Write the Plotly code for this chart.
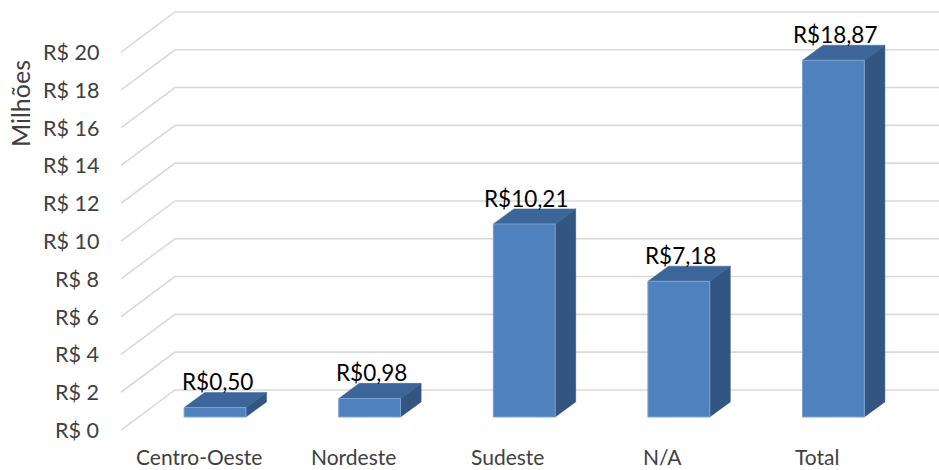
import plotly.graph_objects as go

# ---------------- data ----------------
categories = ["Centro-Oeste", "Nordeste", "Sudeste", "N/A", "Total"]
values = [0.50, 0.98, 10.21, 7.18, 18.87]          # R$ milhões
value_labels = ["R$0,50", "R$0,98", "R$10,21", "R$7,18", "R$18,87"]
tick_values = [0, 2, 4, 6, 8, 10, 12, 14, 16, 18, 20]
tick_labels = ["R$ 0", "R$ 2", "R$ 4", "R$ 6", "R$ 8", "R$ 10",
               "R$ 12", "R$ 14", "R$ 16", "R$ 18", "R$ 20"]
y_title = "Milhões"

# ---------------- style / projection constants ----------------
FONT = "Lato"
HALF_W = 0.20           # half bar width (category units)
DEPTH_X = 0.133         # oblique depth offset of a bar (category units)
DEPTH_Y = 0.80          # oblique depth offset of a bar (value units)
WALL_X = -0.259         # left edge of back wall
WALL_DY = 1.43          # back wall offset above bar front plane
FRONT_X = -0.608        # front-left end of the diagonal gridlines
FRONT_DY = -0.69        # front-left offset below bar front plane
X_RANGE = [-1.391, 4.683]
Y_RANGE = [-2.804, 22.063]

FRONT_COL = "#4F81BD"
SIDE_COL = "#335581"
TOP_COL = "#3C6599"
GRID_COL = "#D9D9D9"

fig = go.Figure()

# gridlines (back wall + left wall diagonals)
gx, gy = [], []
for v in tick_values:
    gx += [FRONT_X, WALL_X, X_RANGE[1], None]
    gy += [v + FRONT_DY, v + WALL_DY, v + WALL_DY, None]
fig.add_trace(go.Scatter(x=gx, y=gy, mode="lines",
                         line=dict(color=GRID_COL, width=1.6),
                         hoverinfo="skip", showlegend=False))

# bars as 3D boxes
fx, fy, sx, sy, tx, ty = [], [], [], [], [], []
for i, v in enumerate(values):
    x0, x1 = i - HALF_W, i + HALF_W
    fx += [x0, x1, x1, x0, x0, None]
    fy += [0, 0, v, v, 0, None]
    sx += [x1, x1 + DEPTH_X, x1 + DEPTH_X, x1, x1, None]
    sy += [0, DEPTH_Y, v + DEPTH_Y, v, 0, None]
    tx += [x0, x1, x1 + DEPTH_X, x0 + DEPTH_X, x0, None]
    ty += [v, v, v + DEPTH_Y, v + DEPTH_Y, v, None]

fig.add_trace(go.Scatter(x=sx, y=sy, fill="toself", fillcolor=SIDE_COL,
                         mode="lines", line=dict(color=SIDE_COL, width=0.5),
                         hoverinfo="skip", showlegend=False))
fig.add_trace(go.Scatter(x=tx, y=ty, fill="toself", fillcolor=TOP_COL,
                         mode="lines", line=dict(color=TOP_COL, width=0.5),
                         hoverinfo="skip", showlegend=False))
fig.add_trace(go.Scatter(x=fx, y=fy, fill="toself", fillcolor=FRONT_COL,
                         mode="lines", line=dict(color="#7FA3D1", width=1),
                         hoverinfo="skip", showlegend=False))

annotations = []
# data labels
for i, (v, lab) in enumerate(zip(values, value_labels)):
    annotations.append(dict(x=i, y=v, text=lab, showarrow=False,
                            xanchor="center", yanchor="middle",
                            xshift=2, yshift=26,
                            font=dict(family=FONT, size=22.5, color="#000000")))
# category labels
for i, c in enumerate(categories):
    annotations.append(dict(x=i - 0.105, y=Y_RANGE[0], text=c, showarrow=False,
                            xanchor="center", yanchor="bottom", yshift=0,
                            borderpad=0,
                            font=dict(family=FONT, size=21, color="#404040")))
# y tick labels
for v, lab in zip(tick_values, tick_labels):
    annotations.append(dict(x=FRONT_X, y=v + FRONT_DY, text=lab, showarrow=False,
                            xanchor="right", yanchor="middle", xshift=-20,
                            font=dict(family=FONT, size=21.5, color="#404040")))
# y title
annotations.append(dict(xref="paper", yref="paper", x=0.022, y=0.78,
                        text=y_title, showarrow=False, textangle=-90,
                        xanchor="center", yanchor="middle",
                        font=dict(family=FONT, size=25, color="#404040")))

fig.update_layout(
    width=939, height=470,
    margin=dict(l=0, r=0, t=0, b=0),
    paper_bgcolor="white", plot_bgcolor="white",
    xaxis=dict(range=X_RANGE, visible=False, fixedrange=True),
    yaxis=dict(range=Y_RANGE, visible=False, fixedrange=True),
    annotations=annotations,
    showlegend=False,
)

fig.write_html("out.html", config={"displayModeBar": False},
               post_script="document.body.style.margin='0';")
